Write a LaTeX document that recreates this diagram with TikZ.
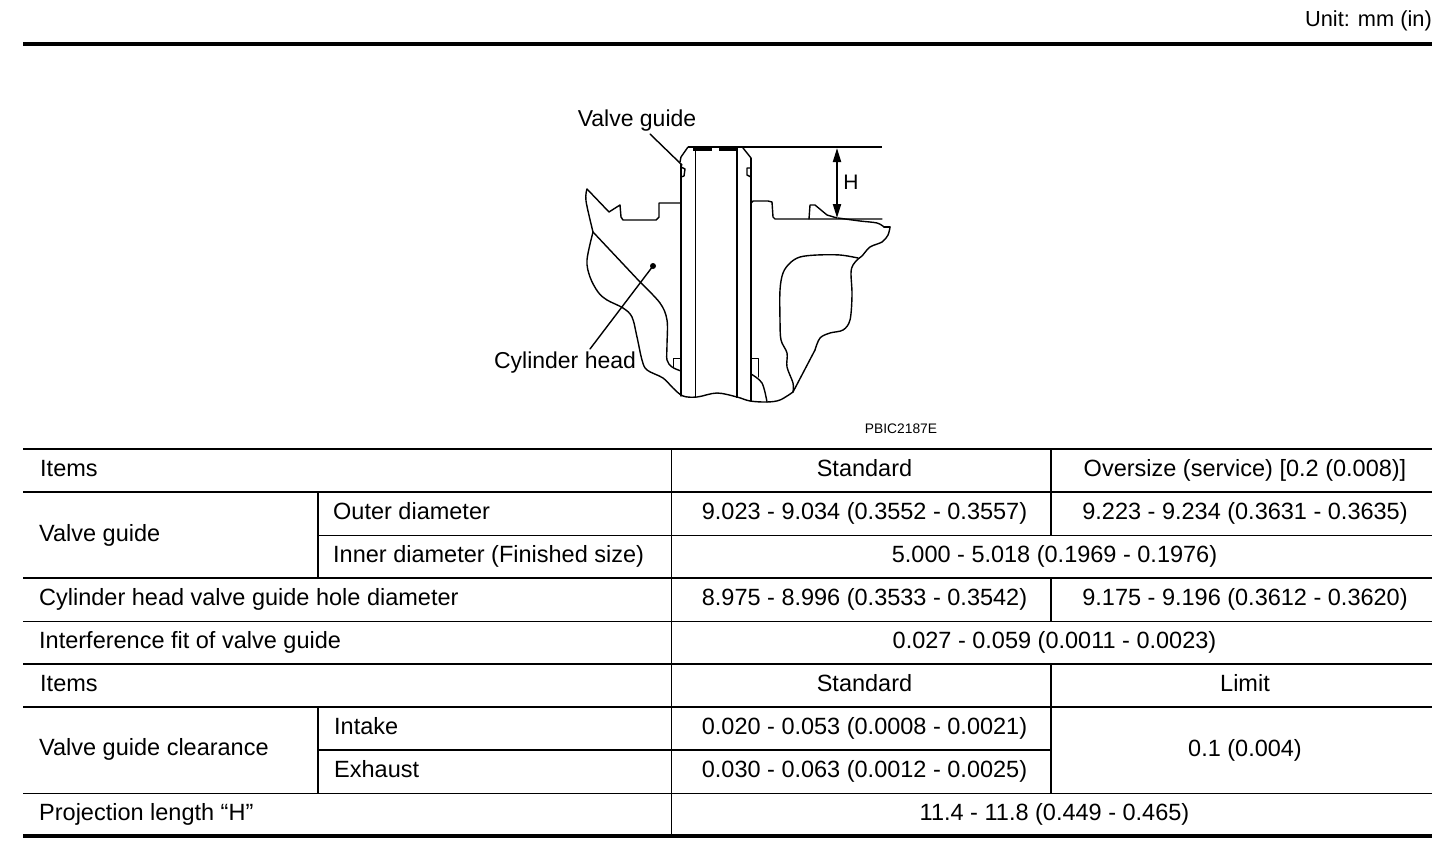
\documentclass[tikz,border=0pt]{standalone}
\usepackage{fontspec}
\setmainfont{Liberation Sans}
\usetikzlibrary{arrows.meta}
\tikzset{
  x=1pt,y=-1pt,
  rulethin/.style={line width=0.9pt,black},
  rulemid/.style={line width=2pt,black},
  rulethick/.style={line width=4pt,black},
  part/.style={line width=1.4pt,black,line join=round,line cap=round},
  partthin/.style={line width=1pt,black,line join=round,line cap=round},
  partbold/.style={line width=2pt,black,line join=round,line cap=butt},
  smoothline/.style={part,smooth,tension=0.55},
  celltext/.style={inner sep=0pt,font=\fontsize{23.5}{26}\selectfont},
  cellleft/.style={celltext,anchor=base west},
  cellmid/.style={celltext,anchor=base},
  figlabel/.style={inner sep=0pt,anchor=base,font=\fontsize{23}{26}\selectfont},
}
\begin{document}
\begin{tikzpicture}
\useasboundingbox (0,0) rectangle (1456,846);
\fill[white] (0,0) rectangle (1456,846);

% header
\node[inner sep=0pt,anchor=base east,font=\fontsize{21.8}{26}\selectfont] (unit) at (1432,26) {Unit: mm (in)};
\draw[rulethick] (23,44) -- (1432,44);

% figure: valve guide
\draw[part] (681,164) -- (681,396);
\draw[partthin] (695,150) -- (695,397);
\draw[partbold] (737,149) -- (737,398);
\draw[partbold] (751,158) -- (751,401);
% guide top
\draw[part] (680,162) -- (681,157) -- (688,147);
\draw[part] (681,167) -- (685,169) -- (684,176) -- (681,177);
\draw[part] (751,168) -- (747,168) -- (747,175) -- (751,177);
\draw[part] (743,148) -- (751,158);
\draw[rulemid] (688,147) -- (882,147);
\draw[line width=3pt] (693,149) -- (712,149);
\draw[line width=3pt] (719,149) -- (738,149);
% head top, left
\draw[part] (587,189) -- (609,212) -- (620,205) -- (621,217) -- (623,220) -- (656,220) -- (659,217) -- (659,203) -- (681,203);
% head top, right
\draw[part] (751,203) -- (753,201) -- (768,201) -- (772,202) -- (773,217) -- (775,219) -- (882,219);
\draw[part] (809,219) -- (810,205) -- (815,205) -- (827,215) -- (837,218);
% head outer outline, left and bottom
\draw[smoothline] plot coordinates {(587,189) (586,201) (593,232)};
\draw[smoothline] plot coordinates {(593,232) (587,260) (590,277) (598,292) (607,300) (623,308) (632,317) (637,337) (642,360) (647,370) (663,378) (673,388) (683,396) (697,397) (717,393) (737,397) (750,401) (767,402) (780,400) (793,392)};
\draw[part] (793,392) -- (815,350);
\draw[smoothline] plot coordinates {(815,350) (820,338) (830,333) (843,330) (850,320) (852,295) (851,273) (853,265) (858,259) (862,256) (870,247) (882,242) (888,235) (890,227)};
\draw[part] (890,227) -- (884,227);
\draw[smoothline] plot coordinates {(884,227) (877,223) (860,221) (838,218)};
% inner cavity, right
\draw[smoothline] plot coordinates {(858,258) (840,255) (817,255) (800,257) (790,263) (783,273) (780,290) (780,320) (781,340) (787,353) (787,367) (793,383) (793,392)};
% inner cut line, left
\draw[part] (593,232) -- (640,282);
\draw[smoothline] plot coordinates {(640,282) (660,303) (667,320) (667,345) (667,360) (672,367) (681,371)};
% lower seats
\draw[partthin] (673,367) -- (673,358) -- (681,358);
\draw[partthin] (752,358) -- (758,358) -- (758,377);
\draw[smoothline] plot coordinates {(751,374) (762,383) (767,402)};

% projection dimension
\coordinate (htop) at (837,148);
\coordinate (hbot) at (837,218);
\draw[line width=2pt,{Triangle[length=14pt,width=8pt]}-{Triangle[length=14pt,width=8pt]}] (htop) -- (hbot);
\node[inner sep=0pt,anchor=base,font=\fontsize{21}{24}\selectfont] (hlabel) at (851,189) {H};

% leaders and labels
\node[figlabel] (vglabel) at (637,126) {Valve guide};
\coordinate (vgstart) at (650,134);
\coordinate (vgtip) at (682,165);
\draw[part] (vgstart) -- (vgtip);
\node[figlabel] (chlabel) at (565,368) {Cylinder head};
\coordinate (chstart) at (590,349);
\coordinate (chdot) at (653,266);
\fill (chdot) circle (3pt);
\draw[part] (chstart) -- (chdot);
\node[inner sep=0pt,anchor=base,font=\fontsize{13.8}{15}\selectfont] (code) at (901,433) {PBIC2187E};

% table rules
\draw[rulemid] (23,449) -- (1432,449);
\draw[rulemid] (23,492) -- (1432,492);
\draw[rulethin] (318,535) -- (1432,535);
\draw[rulemid] (23,578) -- (1432,578);
\draw[rulethin] (23,621) -- (1432,621);
\draw[rulemid] (23,664) -- (1432,664);
\draw[rulemid] (23,707) -- (1432,707);
\draw[rulemid] (318,750) -- (1051,750);
\draw[rulethin] (23,793) -- (1432,793);
\draw[rulethick] (23,836) -- (1432,836);
\draw[rulemid] (318,492) -- (318,578);
\draw[rulemid] (318,707) -- (318,793);
\draw[rulethin] (671,449) -- (671,836);
\draw[rulemid] (1051,449) -- (1051,535);
\draw[rulemid] (1051,578) -- (1051,621);
\draw[rulemid] (1051,664) -- (1051,793);

% table text
\node[cellleft] (t1) at (40,476) {Items};
\node[cellmid] (t2) at (864.5,476) {Standard};
\node[cellmid] (t3) at (1245,476) {Oversize (service) [0.2 (0.008)]};
\node[cellleft] (t4) at (39,541) {Valve guide};
\node[cellleft] (t5) at (333,519) {Outer diameter};
\node[cellmid] (t6) at (864.5,519) {9.023 - 9.034 (0.3552 - 0.3557)};
\node[cellmid] (t7) at (1245,519) {9.223 - 9.234 (0.3631 - 0.3635)};
\node[cellleft] (t8) at (333,562) {Inner diameter (Finished size)};
\node[cellmid] (t9) at (1054.5,562) {5.000 - 5.018 (0.1969 - 0.1976)};
\node[cellleft] (t10) at (39,605) {Cylinder head valve guide hole diameter};
\node[cellmid] (t11) at (864.5,605) {8.975 - 8.996 (0.3533 - 0.3542)};
\node[cellmid] (t12) at (1245,605) {9.175 - 9.196 (0.3612 - 0.3620)};
\node[cellleft] (t13) at (39,648) {Interference fit of valve guide};
\node[cellmid] (t14) at (1054.5,648) {0.027 - 0.059 (0.0011 - 0.0023)};
\node[cellleft] (t15) at (40,691) {Items};
\node[cellmid] (t16) at (864.5,691) {Standard};
\node[cellmid] (t17) at (1245,691) {Limit};
\node[cellleft] (t18) at (39,755) {Valve guide clearance};
\node[cellleft] (t19) at (334,734) {Intake};
\node[cellmid] (t20) at (864.5,734) {0.020 - 0.053 (0.0008 - 0.0021)};
\node[cellleft] (t21) at (334,777) {Exhaust};
\node[cellmid] (t22) at (864.5,777) {0.030 - 0.063 (0.0012 - 0.0025)};
\node[cellmid] (t23) at (1245,756) {0.1 (0.004)};
\node[cellleft] (t24) at (39,820) {Projection length “H”};
\node[cellmid] (t25) at (1054.5,820) {11.4 - 11.8 (0.449 - 0.465)};
\end{tikzpicture}
\end{document}
